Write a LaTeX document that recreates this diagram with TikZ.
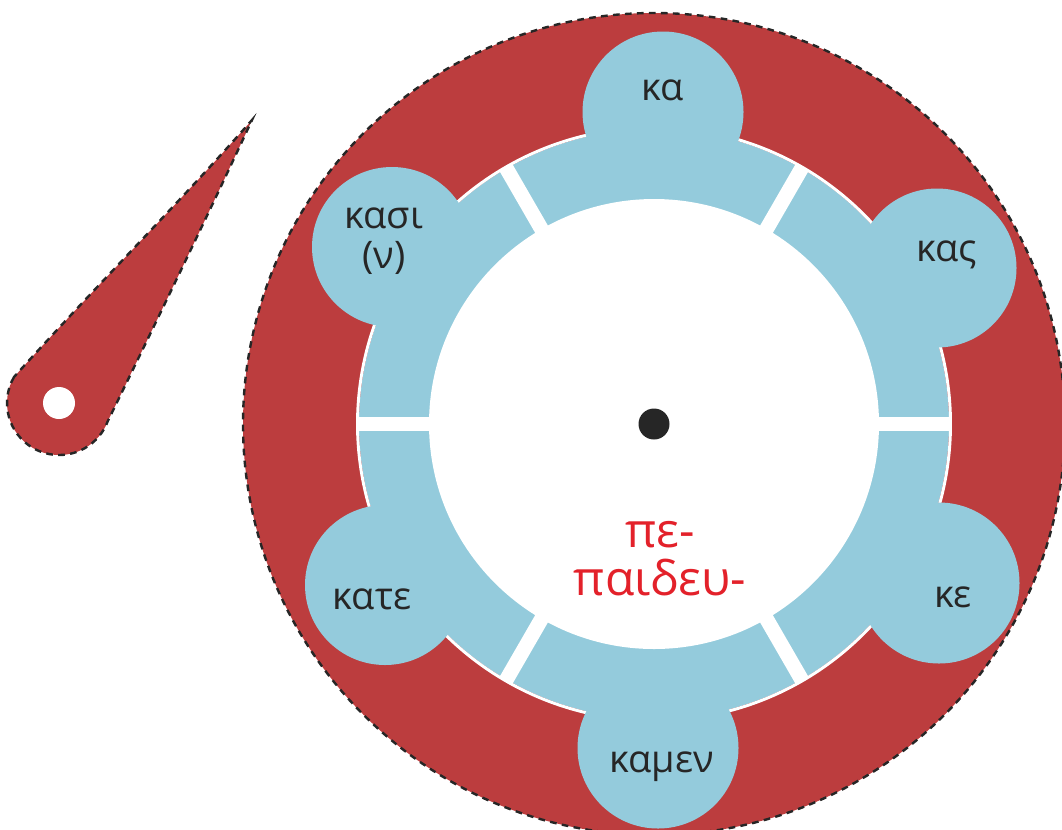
\documentclass[tikz,border=0pt]{standalone}
\usepackage{fontspec}
\setmainfont{Open Sans}
\definecolor{wred}{HTML}{BC3D3E}
\definecolor{wblue}{HTML}{94CBDC}
\definecolor{wtext}{HTML}{262626}
\definecolor{wredtext}{HTML}{E3212A}
\begin{document}
\begin{tikzpicture}[x=0.75pt,y=-0.75pt,
  dashline/.style={draw=wtext, line width=1.8, dash pattern=on 5 off 4},
  lobe/.style={fill=wblue},
  lobetext/.style={text=wtext, font=\fontsize{28.5}{32}\selectfont, align=center, inner sep=0pt},
  gapbar/.style={draw=white, line width=11}]
\useasboundingbox (0,0) rectangle (1062,829);
\clip (0,0) rectangle (1062,829);
\coordinate (C) at (654,424);
% outer red disc
\fill[wred] (C) circle[radius=411];
\draw[dashline] (C) circle[radius=411];
% blue ring
\fill[wblue] (C) circle[radius=295];
\draw[white, line width=2.2] (C) circle[radius=296.5];
% lobes
\fill[lobe] (663,112) circle[radius=80.5];
\fill[lobe] (937,268) circle[radius=79.5];
\fill[lobe] (939,583) circle[radius=80.5];
\fill[lobe] (658,748) circle[radius=80.5];
\fill[lobe] (385,585) circle[radius=80];
\fill[lobe] (392,247) circle[radius=80];
% inner white disc
\fill[white] (C) circle[radius=225];
% gaps
\foreach \a in {0,60,120,180,240,300}
  \draw[gapbar] (C) ++(\a:222) -- ++(\a:74.5);
% centre dot
\fill[wtext] (C) circle[radius=15.5];
% texts
\node[lobetext] (ka) at (663,90) {κα};
\node[lobetext] (kas) at (947,255) {κας};
\node[lobetext] (ke) at (953,597) {κε};
\node[lobetext] (kamen) at (662,767) {καμεν};
\node[lobetext] (kate) at (372,599) {κατε};
\node[lobetext] (kasi) at (384,241) {κασι\\[-2pt](ν)};
\node[text=wredtext, font=\fontsize{36}{36}\selectfont, align=center, inner sep=0pt] (stem) at (660,559) {πε-\\παιδευ-};
% pointer
\coordinate (P) at (59,403);
\path[fill=wred, dashline] (14,377) arc[start angle=-150, end angle=-339, radius=52]
  .. controls (158,318) and (208,215) .. (252,120)
  .. controls (182,200) and (95,287) .. cycle;
\fill[white] (P) circle[radius=16];
\end{tikzpicture}
\end{document}
